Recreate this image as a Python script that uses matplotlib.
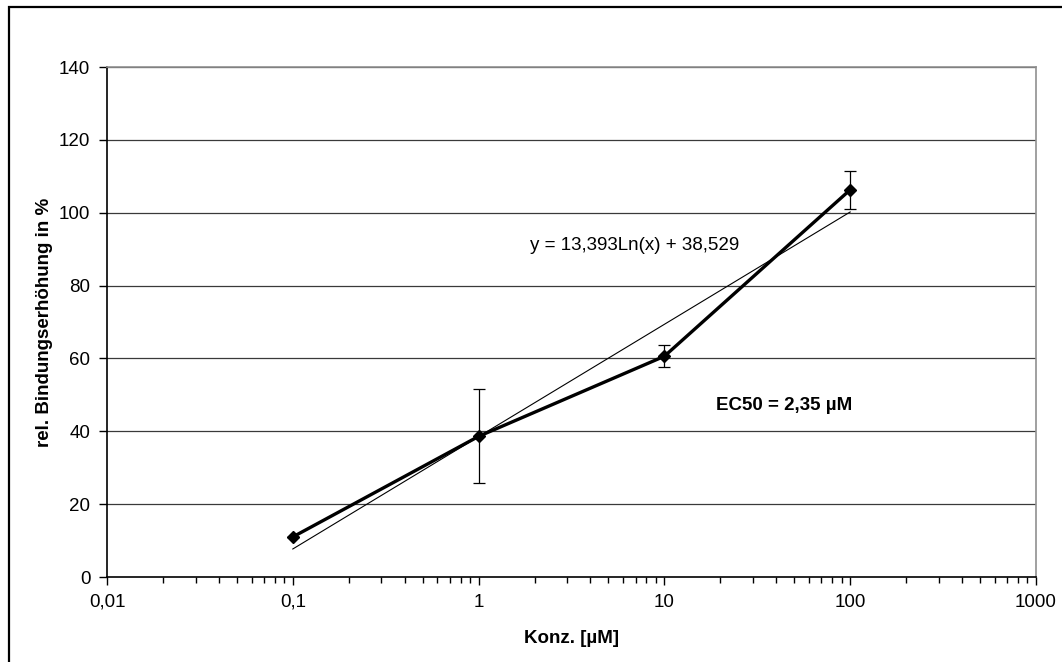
import matplotlib
matplotlib.use("Agg")
import matplotlib.pyplot as plt
from matplotlib.patches import Rectangle
import numpy as np

plt.rcParams['font.family'] = ['Liberation Sans', 'DejaVu Sans']

# Messwerte: Konzentration in uM, relative Bindungserhoehung in %
konz = [0.1, 1, 10, 100]
bindung = [11.0, 38.6, 60.6, 106.3]
fehler = [0.0, 12.9, 3.0, 5.2]

# logarithmische Trendlinie y = a*ln(x) + b
a_fit = 13.393
b_fit = 38.529

x_ticks = [0.01, 0.1, 1, 10, 100, 1000]
x_ticklabels = ['0,01', '0,1', '1', '10', '100', '1000']
y_ticks = [0, 20, 40, 60, 80, 100, 120, 140]

W, H = 1062, 662
fig = plt.figure(figsize=(W / 100, H / 100), dpi=100)
fig.patch.set_facecolor('white')

# Rahmen um das Diagramm
fig.patches.append(Rectangle((9 / W, -0.1), 1.2, (H - 7) / H + 0.1,
                             transform=fig.transFigure, fill=False,
                             edgecolor='black', linewidth=1.6))

ax = fig.add_axes([107 / W, (H - 577) / H, (1036 - 107) / W, (577 - 67) / H])
ax.set_xscale('log')
ax.set_xlim(0.01, 1000)
ax.set_ylim(0, 140)

for y in y_ticks[1:]:
    ax.axhline(y, color='#3a3a3a', linewidth=0.9, zorder=1)

# Trendlinie
xt = np.logspace(np.log10(konz[0]), np.log10(konz[-1]), 200)
ax.plot(xt, a_fit * np.log(xt) + b_fit, color='black', linewidth=0.8, zorder=3)

# Messreihe mit Fehlerbalken
ax.errorbar(konz, bindung, yerr=fehler, fmt='none', ecolor='black',
            elinewidth=0.9, capsize=4, capthick=0.9, zorder=4)
ax.plot(konz, bindung, color='black', linewidth=2.4, marker='D',
        markersize=6.5, zorder=5)

ax.text(1.9, 91, 'y = 13,393Ln(x) + 38,529', fontsize=13.5,
        ha='left', va='center')
ax.text(19, 47.2, 'EC50 = 2,35 µM', fontsize=13.5, fontweight='bold',
        ha='left', va='center')

ax.set_xticks(x_ticks)
ax.set_xticklabels(x_ticklabels)
ax.set_yticks(y_ticks)
ax.tick_params(axis='both', which='major', direction='out', length=6,
               width=1, labelsize=13.5, pad=6, color='black')
ax.tick_params(axis='x', which='minor', direction='out', length=4, width=1)

for s in ['top', 'right']:
    ax.spines[s].set_color('#909090')
    ax.spines[s].set_linewidth(1.2)
for s in ['left', 'bottom']:
    ax.spines[s].set_color('black')
    ax.spines[s].set_linewidth(1.2)

ax.set_xlabel('Konz. [µM]', fontsize=13.5, fontweight='bold', va='center')
ax.xaxis.set_label_coords(0.5, -0.12)
ax.set_ylabel('rel. Bindungserhöhung in %', fontsize=13.5, fontweight='bold',
              va='center')
ax.yaxis.set_label_coords(-0.067, 0.5)

fig.savefig('out.png', dpi=100)
